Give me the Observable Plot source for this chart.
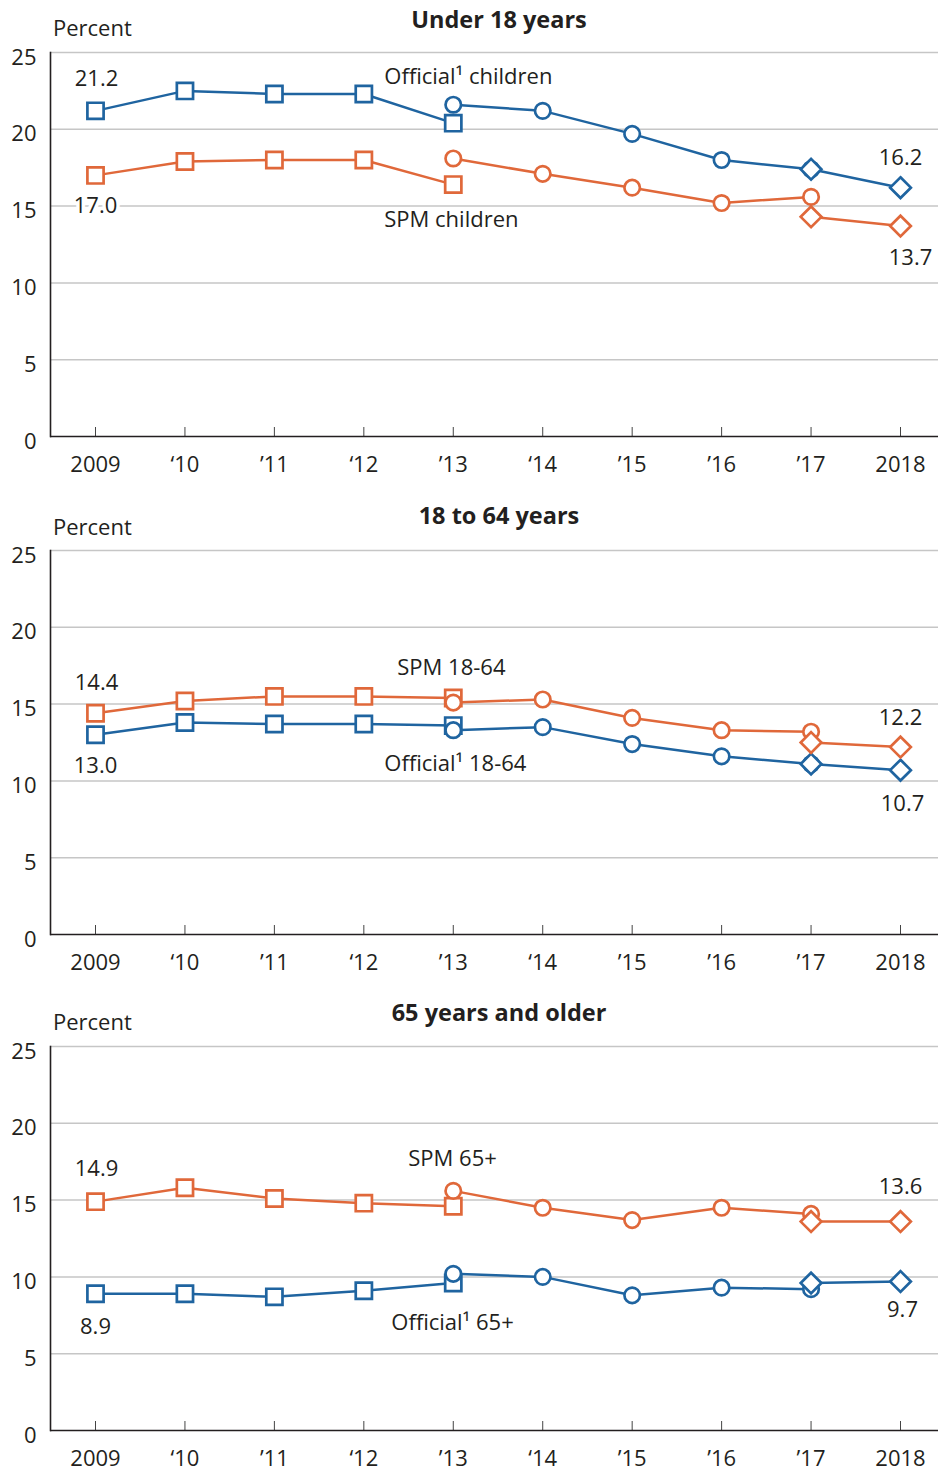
<!DOCTYPE html>
<html>
<head>
<meta charset="utf-8">
<script src="https://cdn.jsdelivr.net/npm/d3@7"></script>
<script src="https://cdn.jsdelivr.net/npm/@observablehq/plot@0.6"></script>
<style>
  body { margin: 0; background: #fff; font-family: "Open Sans", sans-serif; color: #231f20; }
  #root { width: 938px; }
  .panel { position: relative; width: 938px; height: 496px; }
  .percent { position: absolute; left: 53px; font-size: 22px; line-height: 22px; }
  .title { position: absolute; left: 499px; transform: translateX(-50%); font-size: 23.5px; font-weight: 700; line-height: 24px; white-space: nowrap; }
  .panel svg { position: absolute; left: 0; top: 40px; overflow: visible; }
</style>
</head>
<body>
<div id="root"></div>
<script>
// ---------- data ----------
const years = [2009, 2010, 2011, 2012, 2013, 2014, 2015, 2016, 2017, 2018];
const yearLabels = ["2009", "\u201810", "\u201911", "\u201812", "\u201913", "\u201814", "\u201915", "\u201916", "\u201917", "2018"];
const yTicks = [0, 5, 10, 15, 20, 25];

// segments: squares 2009-2013, circles 2013-2017, diamonds 2017-2018
const sqYears = [2009, 2010, 2011, 2012, 2013];
const ciYears = [2013, 2014, 2015, 2016, 2017];
const diYears = [2017, 2018];

// Under 18 years
const childOfficialSq = [21.2, 22.5, 22.3, 22.3, 20.4];
const childOfficialCi = [21.6, 21.2, 19.7, 18.0, 17.4];
const childOfficialDi = [17.4, 16.2];
const childSpmSq = [17.0, 17.9, 18.0, 18.0, 16.4];
const childSpmCi = [18.1, 17.1, 16.2, 15.2, 15.6];
const childSpmDi = [14.3, 13.7];

// 18 to 64 years
const adultOfficialSq = [13.0, 13.8, 13.7, 13.7, 13.6];
const adultOfficialCi = [13.3, 13.5, 12.4, 11.6, 11.1];
const adultOfficialDi = [11.1, 10.7];
const adultSpmSq = [14.4, 15.2, 15.5, 15.5, 15.4];
const adultSpmCi = [15.1, 15.3, 14.1, 13.3, 13.2];
const adultSpmDi = [12.5, 12.2];

// 65 years and older
const olderOfficialSq = [8.9, 8.9, 8.7, 9.1, 9.6];
const olderOfficialCi = [10.2, 10.0, 8.8, 9.3, 9.2];
const olderOfficialDi = [9.6, 9.7];
const olderSpmSq = [14.9, 15.8, 15.1, 14.8, 14.6];
const olderSpmCi = [15.6, 14.5, 13.7, 14.5, 14.1];
const olderSpmDi = [13.6, 13.6];

const panelTitles = ["Under 18 years", "18 to 64 years", "65 years and older"];
const seriesNames = ["Official", "SPM"];
const seriesColors = ["#1f64a0", "#e0683a"];
const segNames = ["seg-sq", "seg-ci", "seg-di"];

// ---------- helpers ----------
function rowsFor(series, sq, ci, di) {
  const out = [];
  sqYears.forEach((y, i) => out.push({series, seg: segNames[0], year: y, value: sq[i]}));
  ciYears.forEach((y, i) => out.push({series, seg: segNames[1], year: y, value: ci[i]}));
  diYears.forEach((y, i) => out.push({series, seg: segNames[2], year: y, value: di[i]}));
  return out;
}

const symSquare = {draw(ctx, size) { const s = Math.sqrt(size / Math.PI) * 0.9; ctx.rect(-s, -s, 2 * s, 2 * s); }};
const symCircle = {draw(ctx, size) { const r = Math.sqrt(size / Math.PI) * 0.86; ctx.moveTo(r, 0); ctx.arc(0, 0, r, 0, 2 * Math.PI); }};
const symDiamond = {draw(ctx, size) { const h = Math.sqrt(size / Math.PI) * 1.15; ctx.moveTo(0, -h); ctx.lineTo(h, 0); ctx.lineTo(0, h); ctx.lineTo(-h, 0); ctx.closePath(); }};

const labelMap = new Map(years.map((y, i) => [y, yearLabels[i]]));
const font = "Open Sans, sans-serif";
const root = document.getElementById("root");

function panelWithNotes(idx, rows, notes, hdr) {
  const div = document.createElement("div");
  div.className = "panel";
  const p = document.createElement("div");
  p.className = "percent"; p.textContent = "Percent"; p.style.top = hdr.percentTop + "px";
  const t = document.createElement("div");
  t.className = "title"; t.textContent = panelTitles[idx]; t.style.top = hdr.titleTop + "px";
  div.appendChild(p); div.appendChild(t);

  const dotMarks = segNames.map(seg => Plot.dot(rows.filter(r => r.seg === seg), {
    x: "year", y: "value", stroke: "series", fill: "white", symbol: "seg", r: 9, strokeWidth: 2.7
  }));
  const textMarks = notes.map(n => Plot.text([n], {
    x: "year", y: "value", text: "text", dx: n.dx, dy: n.dy, textAnchor: n.anchor,
    fontSize: 22, fill: "#231f20", stroke: "white", strokeWidth: 7, paintOrder: "stroke"
  }));

  const chart = Plot.plot({
    width: 938, height: 446,
    marginTop: 12, marginBottom: 50, marginLeft: 50, marginRight: 0,
    style: {fontFamily: font, fontSize: "22px", color: "#231f20", background: "white"},
    x: {domain: [2009, 2018], range: [95, 900], axis: null, label: null},
    y: {domain: [0, 25], axis: null, label: null},
    color: {domain: seriesNames, range: seriesColors},
    symbol: {domain: segNames, range: [symSquare, symCircle, symDiamond]},
    marks: [
      Plot.ruleY(yTicks.filter(d => d > 0), {stroke: "#c6c6c6", strokeWidth: 1.5}),
      Plot.ruleX(years, {stroke: "#444", strokeWidth: 1, insetTop: 375}),
      Plot.ruleY([0], {stroke: "#231f20", strokeWidth: 1.6}),
      Plot.frame({anchor: "left", stroke: "#231f20", strokeWidth: 1.6}),
      Plot.axisY({ticks: yTicks, tickSize: 0, tickPadding: 14, dy: 5, fontSize: 22, fill: "#231f20", label: null}),
      Plot.axisX({ticks: years, tickFormat: d => labelMap.get(d), tickSize: 0, tickPadding: 20, fontSize: 22, fill: "#231f20", label: null}),
      ...textMarks,
      Plot.line(rows, {x: "year", y: "value", z: d => d.series + d.seg, stroke: "series", strokeWidth: 2.5}),
      ...dotMarks
    ]
  });
  div.appendChild(chart);
  return div;
}

const rows1 = [...rowsFor("Official", childOfficialSq, childOfficialCi, childOfficialDi), ...rowsFor("SPM", childSpmSq, childSpmCi, childSpmDi)];
const rows2 = [...rowsFor("Official", adultOfficialSq, adultOfficialCi, adultOfficialDi), ...rowsFor("SPM", adultSpmSq, adultSpmCi, adultSpmDi)];
const rows3 = [...rowsFor("Official", olderOfficialSq, olderOfficialCi, olderOfficialDi), ...rowsFor("SPM", olderSpmSq, olderSpmCi, olderSpmDi)];

const notes1 = [
  {text: childOfficialSq[0].toFixed(1), year: 2009, value: childOfficialSq[0], dx: 1, dy: -32, anchor: "middle"},
  {text: childSpmSq[0].toFixed(1), year: 2009, value: childSpmSq[0], dx: 0, dy: 31, anchor: "middle"},
  {text: childOfficialDi[1].toFixed(1), year: 2018, value: childOfficialDi[1], dx: 0, dy: -30, anchor: "middle"},
  {text: childSpmDi[1].toFixed(1), year: 2018, value: childSpmDi[1], dx: 10, dy: 32, anchor: "middle"},
  {text: "Official\u00b9 children", year: 2013, value: childOfficialCi[0], dx: -69, dy: -28, anchor: "start"},
  {text: "SPM children", year: 2013, value: childSpmSq[4], dx: -69, dy: 35, anchor: "start"}
];
const notes2 = [
  {text: adultSpmSq[0].toFixed(1), year: 2009, value: adultSpmSq[0], dx: 1, dy: -30, anchor: "middle"},
  {text: adultOfficialSq[0].toFixed(1), year: 2009, value: adultOfficialSq[0], dx: 0, dy: 31, anchor: "middle"},
  {text: adultSpmDi[1].toFixed(1), year: 2018, value: adultSpmDi[1], dx: 0, dy: -29, anchor: "middle"},
  {text: adultOfficialDi[1].toFixed(1), year: 2018, value: adultOfficialDi[1], dx: 2, dy: 34, anchor: "middle"},
  {text: "SPM 18-64", year: 2013, value: adultSpmSq[4], dx: -56, dy: -30, anchor: "start"},
  {text: "Official\u00b9 18-64", year: 2013, value: adultOfficialCi[0], dx: -69, dy: 34, anchor: "start"}
];
const notes3 = [
  {text: olderSpmSq[0].toFixed(1), year: 2009, value: olderSpmSq[0], dx: 1, dy: -33, anchor: "middle"},
  {text: olderOfficialSq[0].toFixed(1), year: 2009, value: olderOfficialSq[0], dx: 0, dy: 33, anchor: "middle"},
  {text: olderSpmDi[1].toFixed(1), year: 2018, value: olderSpmDi[1], dx: 0, dy: -35, anchor: "middle"},
  {text: olderOfficialDi[1].toFixed(1), year: 2018, value: olderOfficialDi[1], dx: 2, dy: 28, anchor: "middle"},
  {text: "SPM 65+", year: 2013, value: olderSpmCi[0], dx: -45, dy: -32, anchor: "start"},
  {text: "Official\u00b9 65+", year: 2013, value: olderOfficialSq[4], dx: -62, dy: 40, anchor: "start"}
];

root.appendChild(panelWithNotes(0, rows1, notes1, {titleTop: 7, percentTop: 16}));
const p2 = panelWithNotes(1, rows2, notes2, {titleTop: 5, percentTop: 17});
p2.style.marginTop = "2px";
root.appendChild(p2);
root.appendChild(panelWithNotes(2, rows3, notes3, {titleTop: 6, percentTop: 16}));
</script>
</body>
</html>
